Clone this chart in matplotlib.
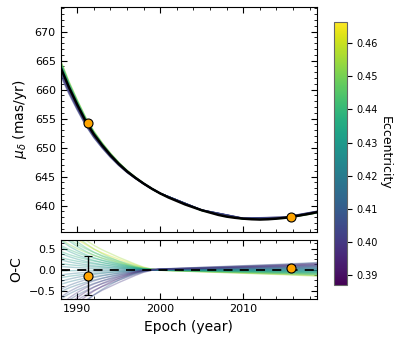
import numpy as np
import matplotlib
matplotlib.use("Agg")
import matplotlib.pyplot as plt
from matplotlib.ticker import MultipleLocator

# best-fit model of mu_delta (mas/yr)
epoch_best = [1988, 1989, 1990, 1991, 1992, 1993, 1994, 1995, 1996, 1997, 1998,
              1999, 2000, 2001, 2002, 2003, 2004, 2005, 2006, 2007, 2008, 2009,
              2010, 2011, 2012, 2013, 2014, 2015, 2016, 2017, 2018, 2019]
pm_best = [663.8, 660.4, 657.4, 654.6, 652.3, 650.4, 648.7, 647.2, 645.9, 644.8,
           643.8, 642.9, 642.1, 641.4, 640.8, 640.2, 639.7, 639.2, 638.8, 638.4,
           638.1, 637.9, 637.75, 637.65, 637.6, 637.65, 637.75, 637.9, 638.1,
           638.35, 638.6, 638.9]

# Hipparcos / Gaia measurements
epoch_obs = [1991.25, 2015.75]
pm_obs = [654.2, 638.1]
oc_obs = [-0.14, 0.05]
oc_err = [0.47, 0.05]

# random orbits: eccentricity and offset from the best fit (O-C curves)
epoch_oc = [1988, 1989, 1990, 1991, 1992, 1993, 1994, 1995, 1996, 1997, 1998,
            1999, 2000, 2005, 2010, 2015, 2019]
ecc = [0.455, 0.448, 0.462, 0.440, 0.445, 0.436, 0.452, 0.432, 0.440, 0.430,
       0.438, 0.428, 0.434, 0.425, 0.430, 0.422,
       0.424, 0.418, 0.426, 0.415, 0.420, 0.410, 0.416, 0.405, 0.412, 0.400,
       0.408, 0.395, 0.403, 0.392, 0.400, 0.410]
oc_curves = [
    [1.233, 1.02, 0.85, 0.706, 0.578, 0.472, 0.383, 0.293, 0.213, 0.132, 0.06, 0.013, -0.013, -0.051, -0.085, -0.119, -0.153],
    [1.209, 0.967, 0.78, 0.624, 0.491, 0.382, 0.289, 0.203, 0.133, 0.07, 0.023, -0.004, -0.016, -0.047, -0.078, -0.109, -0.14],
    [1.044, 0.864, 0.72, 0.598, 0.49, 0.40, 0.324, 0.248, 0.18, 0.112, 0.05, 0.011, -0.011, -0.043, -0.072, -0.101, -0.13],
    [1.023, 0.818, 0.66, 0.528, 0.416, 0.323, 0.244, 0.172, 0.112, 0.059, 0.02, -0.003, -0.013, -0.04, -0.066, -0.092, -0.119],
    [0.87, 0.72, 0.60, 0.498, 0.408, 0.333, 0.27, 0.207, 0.15, 0.093, 0.042, 0.009, -0.009, -0.036, -0.06, -0.084, -0.108],
    [0.853, 0.682, 0.55, 0.44, 0.347, 0.27, 0.204, 0.143, 0.094, 0.05, 0.017, -0.003, -0.011, -0.033, -0.055, -0.077, -0.099],
    [0.725, 0.60, 0.50, 0.415, 0.34, 0.278, 0.225, 0.173, 0.125, 0.078, 0.035, 0.008, -0.008, -0.03, -0.05, -0.07, -0.09],
    [0.698, 0.558, 0.45, 0.36, 0.284, 0.221, 0.167, 0.117, 0.077, 0.041, 0.014, -0.002, -0.009, -0.027, -0.045, -0.063, -0.081],
    [0.58, 0.48, 0.40, 0.332, 0.272, 0.222, 0.18, 0.138, 0.10, 0.062, 0.028, 0.006, -0.006, -0.024, -0.04, -0.056, -0.072],
    [0.543, 0.434, 0.35, 0.28, 0.221, 0.172, 0.13, 0.091, 0.06, 0.032, 0.011, -0.002, -0.007, -0.021, -0.035, -0.049, -0.063],
    [0.435, 0.36, 0.30, 0.249, 0.204, 0.167, 0.135, 0.104, 0.075, 0.047, 0.021, 0.005, -0.005, -0.018, -0.03, -0.042, -0.054],
    [0.388, 0.31, 0.25, 0.20, 0.158, 0.123, 0.093, 0.065, 0.043, 0.023, 0.008, -0.001, -0.005, -0.015, -0.025, -0.035, -0.045],
    [0.29, 0.24, 0.20, 0.166, 0.136, 0.111, 0.09, 0.069, 0.05, 0.031, 0.014, 0.003, -0.003, -0.012, -0.02, -0.028, -0.036],
    [0.233, 0.186, 0.15, 0.12, 0.095, 0.074, 0.056, 0.039, 0.026, 0.014, 0.005, -0.001, -0.003, -0.009, -0.015, -0.021, -0.027],
    [0.145, 0.12, 0.10, 0.083, 0.068, 0.056, 0.045, 0.035, 0.025, 0.016, 0.007, 0.002, -0.002, -0.006, -0.01, -0.014, -0.018],
    [0.078, 0.062, 0.05, 0.04, 0.032, 0.025, 0.019, 0.013, 0.009, 0.005, 0.002, 0.0, -0.001, -0.003, -0.005, -0.007, -0.009],
    [-0.029, -0.024, -0.02, -0.017, -0.014, -0.011, -0.009, -0.007, -0.005, -0.003, -0.001, 0.0, 0.0, 0.001, 0.002, 0.003, 0.004],
    [-0.124, -0.099, -0.08, -0.064, -0.05, -0.039, -0.03, -0.021, -0.014, -0.007, -0.002, 0.0, 0.002, 0.005, 0.008, 0.011, 0.014],
    [-0.189, -0.156, -0.13, -0.108, -0.088, -0.072, -0.059, -0.045, -0.033, -0.02, -0.009, -0.002, 0.002, 0.008, 0.013, 0.018, 0.023],
    [-0.279, -0.223, -0.18, -0.144, -0.113, -0.088, -0.067, -0.047, -0.031, -0.016, -0.005, 0.001, 0.004, 0.011, 0.018, 0.025, 0.032],
    [-0.348, -0.288, -0.24, -0.199, -0.163, -0.133, -0.108, -0.083, -0.06, -0.037, -0.017, -0.004, 0.004, 0.014, 0.024, 0.034, 0.043],
    [-0.465, -0.372, -0.30, -0.24, -0.189, -0.147, -0.111, -0.078, -0.051, -0.027, -0.009, 0.002, 0.006, 0.018, 0.03, 0.042, 0.054],
    [-0.522, -0.432, -0.36, -0.299, -0.245, -0.20, -0.162, -0.124, -0.09, -0.056, -0.025, -0.005, 0.005, 0.022, 0.036, 0.05, 0.065],
    [-0.651, -0.521, -0.42, -0.336, -0.265, -0.206, -0.155, -0.109, -0.071, -0.038, -0.013, 0.002, 0.008, 0.025, 0.042, 0.059, 0.076],
    [-0.696, -0.576, -0.48, -0.398, -0.326, -0.266, -0.216, -0.166, -0.12, -0.074, -0.034, -0.007, 0.007, 0.029, 0.048, 0.067, 0.086],
    [-0.837, -0.67, -0.54, -0.432, -0.34, -0.265, -0.20, -0.14, -0.092, -0.049, -0.016, 0.003, 0.011, 0.032, 0.054, 0.076, 0.097],
    [-0.87, -0.72, -0.60, -0.498, -0.408, -0.333, -0.27, -0.207, -0.15, -0.093, -0.042, -0.009, 0.009, 0.036, 0.06, 0.084, 0.108],
    [-1.023, -0.818, -0.66, -0.528, -0.416, -0.323, -0.244, -0.172, -0.112, -0.059, -0.02, 0.003, 0.013, 0.04, 0.066, 0.092, 0.119],
    [-1.044, -0.864, -0.72, -0.598, -0.49, -0.40, -0.324, -0.248, -0.18, -0.112, -0.05, -0.011, 0.011, 0.043, 0.072, 0.101, 0.13],
    [-1.24, -0.992, -0.80, -0.64, -0.504, -0.392, -0.296, -0.208, -0.136, -0.072, -0.024, 0.004, 0.016, 0.048, 0.08, 0.112, 0.144],
    [-1.276, -1.056, -0.88, -0.73, -0.598, -0.488, -0.396, -0.304, -0.22, -0.136, -0.062, -0.013, 0.013, 0.053, 0.088, 0.123, 0.158],
    [-1.473, -1.178, -0.95, -0.76, -0.599, -0.466, -0.352, -0.247, -0.162, -0.086, -0.029, 0.005, 0.019, 0.057, 0.095, 0.133, 0.171],
]

ecc_min, ecc_max = 0.387, 0.4665

fig = plt.figure(figsize=(4.07, 3.42), dpi=100)
ax1 = fig.add_axes([0.149, 0.3225, 0.630, 0.658])
ax2 = fig.add_axes([0.149, 0.125, 0.630, 0.174])
cax = fig.add_axes([0.8206, 0.1667, 0.0312, 0.770])

cmap = plt.get_cmap("viridis")
norm = matplotlib.colors.Normalize(vmin=ecc_min, vmax=ecc_max)

eb = np.array(epoch_best)
pb = np.array(pm_best)
best_at_oc = pb[np.isin(eb, epoch_oc)]

for e, oc in zip(ecc, oc_curves):
    c = cmap(norm(e))
    ax1.plot(epoch_oc, best_at_oc + np.array(oc), color=c, lw=1, alpha=0.3)
    ax2.plot(epoch_oc, oc, color=c, lw=1, alpha=0.35)

ax1.plot(epoch_best, pm_best, color="black", lw=1.8, zorder=5)
ax1.scatter(epoch_obs, pm_obs, s=42, color="orange", edgecolor="black",
            linewidth=0.8, zorder=10)

ax2.axhline(0, color="black", ls="--", lw=1.3, dashes=(5, 4), zorder=5)
ax2.errorbar(epoch_obs, oc_obs, yerr=oc_err, fmt="o", ms=6.5, color="black",
             mfc="orange", mec="black", mew=0.8, ecolor="black", elinewidth=1,
             capsize=3, zorder=10)

for ax in (ax1, ax2):
    ax.set_xlim(1988.0, 2018.9)
    ax.xaxis.set_major_locator(MultipleLocator(10))
    ax.xaxis.set_minor_locator(MultipleLocator(2))
    ax.tick_params(direction="in", which="both", top=True, right=True,
                   labelsize=8)
    ax.tick_params(which="major", length=4)
    ax.tick_params(which="minor", length=2)

ax1.set_ylim(635.5, 674.3)
ax1.yaxis.set_major_locator(MultipleLocator(5))
ax1.yaxis.set_minor_locator(MultipleLocator(1))
ax1.tick_params(labelbottom=False)
ax1.set_ylabel(r"$\mu_\delta$ (mas/yr)", fontsize=10)

ax2.set_ylim(-0.7, 0.71)
ax2.yaxis.set_major_locator(MultipleLocator(0.5))
ax2.yaxis.set_minor_locator(MultipleLocator(0.125))
ax2.set_ylabel("O-C", fontsize=10)
ax2.set_xlabel("Epoch (year)", fontsize=10)

sm = matplotlib.cm.ScalarMappable(norm=norm, cmap=cmap)
cb = fig.colorbar(sm, cax=cax)
cb.set_ticks([0.39, 0.40, 0.41, 0.42, 0.43, 0.44, 0.45, 0.46])
cb.ax.tick_params(labelsize=7)
cb.outline.set_edgecolor("0.4")
cb.set_label("Eccentricity", rotation=270, fontsize=9, labelpad=10)

fig.savefig("out.png", dpi=100)
